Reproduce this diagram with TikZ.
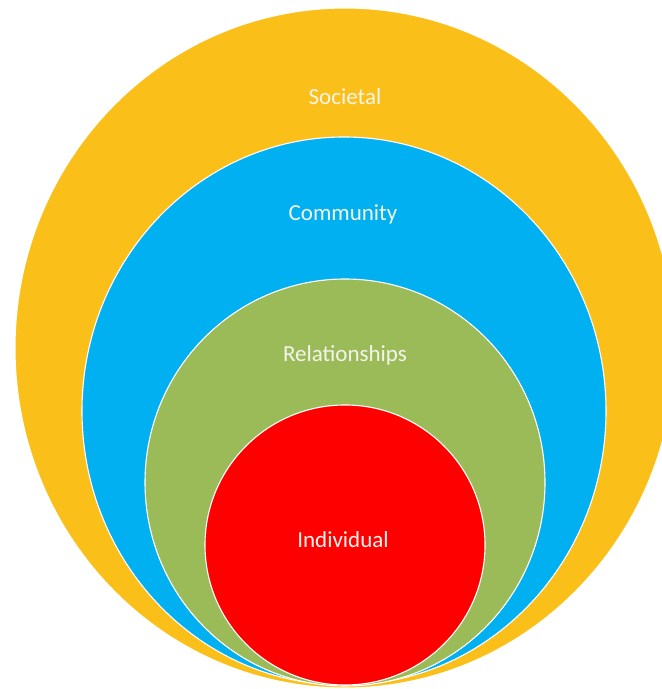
\documentclass[tikz,border=0pt]{standalone}
\usepackage{fontspec}
\setmainfont{Carlito}
\usepackage{tikz}

\definecolor{societal}{RGB}{250,192,25}
\definecolor{community}{RGB}{0,176,240}
\definecolor{relation}{RGB}{155,187,89}
\definecolor{individual}{RGB}{255,0,0}
\definecolor{labeltext}{RGB}{244,244,236}

\begin{document}
\begin{tikzpicture}[x=1pt, y=1pt, line join=round,
		ring/.style={draw=white, line width=1.1pt},
		ringlabel/.style={text=labeltext, anchor=base, inner sep=0pt, font=\fontsize{23}{27}\selectfont}]
		
		% --- Rahmen (Bildgroesse) ---
		\useasboundingbox (0,0) rectangle (662,689);
		\clip (0,0) rectangle (662,689);
		
		% --- Parameter (nur Darstellung) ---
		\pgfmathsetmacro{\X}{345}  % gemeinsame Mitte (x)
		
		% --- Ringe, unten beruehrend ---
		\fill[societal, ring] (\X,341) ellipse [x radius=330, y radius=340];
		\fill[community, ring] (\X-1,278) ellipse [x radius=262, y radius=274];
		\fill[relation, ring] (\X,206.5) ellipse [x radius=200, y radius=203.5];
		\fill[individual, ring] (\X,144) circle [radius=140];
		
		% --- Beschriftungen ---
		\node[ringlabel] (societal) at (\X,584) {Societal};
		\node[ringlabel] (community) at (\X-2,468) {Community};
		\node[ringlabel] (relationships) at (\X,327) {Relationships};
		\node[ringlabel] (individual) at (\X-2,141) {Individual};
		
	\end{tikzpicture}
\end{document}
